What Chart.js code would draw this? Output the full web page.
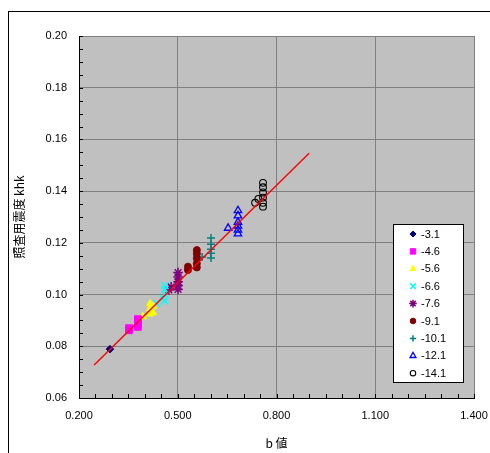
<!DOCTYPE html>
<html>
<head>
<meta charset="utf-8">
<script src="https://cdn.jsdelivr.net/npm/chart.js@4.4.0/dist/chart.umd.min.js"></script>
<style>
  html, body { margin: 0; padding: 0; background: #fff; }
  #wrap { width: 490px; height: 453px; }
</style>
</head>
<body>
<div id="wrap"><canvas id="chart" width="490" height="453"></canvas></div>
<script>
// DATA
const seriesLabels = ['-3.1', '-4.6', '-5.6', '-6.6', '-7.6', '-9.1', '-10.1', '-12.1', '-14.1'];

const bA = [0.294];
const kA = [0.0789];
const bB = [0.352, 0.352, 0.379, 0.379, 0.379];
const kB = [0.0862, 0.0870, 0.0875, 0.0888, 0.0905];
const bC = [0.394, 0.416, 0.416, 0.416, 0.425, 0.425];
const kC = [0.0915, 0.0925, 0.0945, 0.0965, 0.0930, 0.0955];
const bD = [0.436, 0.455, 0.461, 0.461, 0.461, 0.461];
const kD = [0.0966, 0.0985, 0.0975, 0.1000, 0.1020, 0.1035];
const bE = [0.473, 0.480, 0.501, 0.501, 0.501, 0.501, 0.501];
const kE = [0.1018, 0.1030, 0.1020, 0.1035, 0.1050, 0.1068, 0.1085];
const bF = [0.531, 0.531, 0.558, 0.558, 0.558, 0.558, 0.558];
const kF = [0.1095, 0.1108, 0.1105, 0.1120, 0.1140, 0.1158, 0.1172];
const bG = [0.574, 0.601, 0.601, 0.601, 0.601, 0.601];
const kG = [0.1145, 0.1141, 0.1160, 0.1175, 0.1195, 0.1219];
const bH = [0.653, 0.683, 0.683, 0.683, 0.683, 0.683, 0.683];
const kH = [0.1257, 0.1235, 0.1250, 0.1265, 0.1280, 0.1305, 0.1325];
const bI = [0.735, 0.745, 0.759, 0.759, 0.759, 0.759, 0.759, 0.759];
const kI = [0.1355, 0.1370, 0.1340, 0.1355, 0.1375, 0.1395, 0.1415, 0.1432];

// trend line end points
const trendB = [0.246, 0.899];
const trendK = [0.0728, 0.1547];

const xTicks = [0.2, 0.5, 0.8, 1.1, 1.4];
const yTicks = [0.06, 0.08, 0.10, 0.12, 0.14, 0.16, 0.18, 0.20];

const allB = [bA, bB, bC, bD, bE, bF, bG, bH, bI];
const allK = [kA, kB, kC, kD, kE, kF, kG, kH, kI];

// marker look per series
const markers = [
  { style: 'rectRot',  color: '#000080', fill: true,  r: 3.8, bw: 1 },
  { style: 'rect',     color: '#FF00FF', fill: true,  r: 4.8, bw: 1 },
  { style: 'triangle', color: '#FFFF00', fill: true,  r: 4.2, bw: 1 },
  { style: 'crossRot', color: '#00FFFF', fill: false, r: 5,   bw: 1.5 },
  { style: 'star',     color: '#800080', fill: false, r: 4.8, bw: 1.5 },
  { style: 'circle',   color: '#800000', fill: true,  r: 3.5, bw: 1 },
  { style: 'cross',    color: '#008080', fill: false, r: 4,   bw: 1.5 },
  { style: 'triangle', color: '#0000FF', fill: false, r: 4.3, bw: 1.3 },
  { style: 'circle',   color: '#000000', fill: false, r: 3.4, bw: 1.1 }
];

const toPoints = (xs, ys) => xs.map((x, i) => ({ x: x, y: ys[i] }));

const datasets = [{
  label: 'trend',
  data: toPoints(trendB, trendK),
  showLine: true,
  borderColor: '#FF0000',
  borderWidth: 1.4,
  pointRadius: 0,
  order: -1
}];

seriesLabels.forEach((lbl, i) => {
  const m = markers[i];
  datasets.push({
    label: lbl,
    data: toPoints(allB[i], allK[i]),
    pointStyle: m.style,
    pointRadius: m.r,
    pointBorderWidth: m.bw,
    pointBorderColor: m.color,
    pointBackgroundColor: m.fill ? m.color : 'rgba(0,0,0,0)',
    showLine: false
  });
});

// PLOT BACKGROUND + FRAME
const backdrop = {
  id: 'backdrop',
  beforeDraw(chart) {
    const { ctx, chartArea: a } = chart;
    ctx.save();
    ctx.fillStyle = '#C0C0C0';
    ctx.fillRect(a.left, a.top, a.right - a.left, a.bottom - a.top);
    ctx.strokeStyle = '#000';
    ctx.lineWidth = 1;
    ctx.strokeRect(8.5, 11.5, 700, 700);
    ctx.restore();
  }
};

// INNER TICK MARKS
const innerTicks = {
  id: 'innerTicks',
  beforeDatasetsDraw(chart) {
    const { ctx, chartArea: a, scales } = chart;
    ctx.save();
    ctx.strokeStyle = '#000';
    ctx.lineWidth = 1;
    ctx.beginPath();
    for (let i = 0; i <= 24; i++) {
      const px = Math.round(scales.x.getPixelForValue(0.2 + i * 0.05)) + 0.5;
      ctx.moveTo(px, a.bottom);
      ctx.lineTo(px, a.bottom - 4);
    }
    for (let i = 0; i <= 28; i++) {
      const py = Math.round(scales.y.getPixelForValue(0.06 + i * 0.005)) + 0.5;
      ctx.moveTo(a.left, py);
      ctx.lineTo(a.left + 4, py);
    }
    ctx.stroke();
    ctx.restore();
  }
};

// LEGEND BOX INSIDE PLOT
const boxLegend = {
  id: 'boxLegend',
  afterDraw(chart) {
    const ctx = chart.ctx;
    const left = 393.5, top = 224.5, w = 70, h = 158;
    ctx.save();
    ctx.fillStyle = '#fff';
    ctx.fillRect(left, top, w, h);
    ctx.strokeStyle = '#000';
    ctx.lineWidth = 1;
    ctx.strokeRect(left, top, w, h);
    ctx.font = '11px "Liberation Sans", Arial, sans-serif';
    ctx.textBaseline = 'middle';
    ctx.textAlign = 'left';
    seriesLabels.forEach((lbl, i) => {
      const m = markers[i];
      const y = 234 + i * 17.4;
      ctx.fillStyle = m.fill ? m.color : 'rgba(0,0,0,0)';
      ctx.strokeStyle = m.color;
      ctx.lineWidth = m.bw;
      Chart.helpers.drawPoint(ctx, { pointStyle: m.style, rotation: 0, radius: m.r * 0.8, borderWidth: m.bw }, 413, y);
      ctx.fillStyle = '#000';
      ctx.fillText(lbl, 421, y + 0.5);
    });
    ctx.restore();
  }
};

const tickFont = { family: '"Liberation Sans", Arial, sans-serif', size: 11 };
const titleFont = { family: '"Noto Sans CJK JP", "Liberation Sans", sans-serif', size: 12 };

new Chart(document.getElementById('chart'), {
  type: 'scatter',
  data: { datasets: datasets },
  options: {
    responsive: false,
    animation: false,
    devicePixelRatio: 1,
    layout: { padding: { left: 0, right: 16, top: 36, bottom: 0 } },
    plugins: {
      legend: { display: false },
      tooltip: { enabled: false }
    },
    scales: {
      x: {
        type: 'linear',
        min: xTicks[0],
        max: xTicks[xTicks.length - 1],
        afterBuildTicks: s => { s.ticks = xTicks.map(v => ({ value: v })); },
        afterFit: s => { s.height = 55; s.paddingLeft = 0; s.paddingRight = 0; },
        ticks: {
          color: '#000',
          font: tickFont,
          padding: 11,
          maxRotation: 0,
          callback: v => Number(v).toFixed(3)
        },
        grid: { color: '#808080', drawTicks: false },
        border: { color: '#000', width: 1 },
        title: { display: true, text: 'b 値', color: '#000', font: titleFont, padding: { bottom: 2 } }
      },
      y: {
        type: 'linear',
        min: yTicks[0],
        max: yTicks[yTicks.length - 1],
        afterBuildTicks: s => { s.ticks = yTicks.map(v => ({ value: v })); },
        afterFit: s => { s.width = 79; s.paddingTop = 0; s.paddingBottom = 0; },
        ticks: {
          color: '#000',
          font: tickFont,
          padding: 12,
          callback: v => Number(v).toFixed(2)
        },
        grid: { color: '#808080', drawTicks: false },
        border: { color: '#000', width: 1 },
        title: { display: true, text: '照査用震度 khk', color: '#000', font: titleFont, padding: { top: 12 } }
      }
    }
  },
  plugins: [backdrop, innerTicks, boxLegend]
});
</script>
</body>
</html>
